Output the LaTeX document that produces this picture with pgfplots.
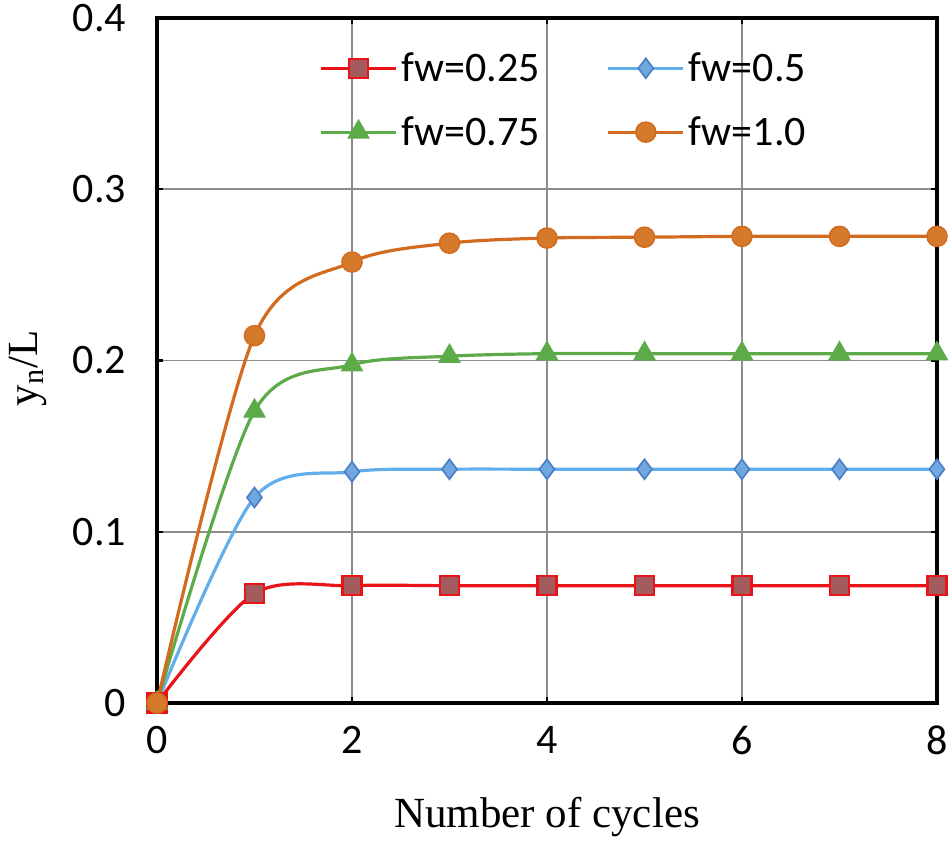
\documentclass[border=0pt]{standalone}
\usepackage{fontspec}
\setmainfont{Liberation Serif}
\newfontfamily\calfont{Carlito}
\usepackage{pgfplots}
\pgfplotsset{compat=1.18}
\definecolor{cRed}{HTML}{E8141A}
\definecolor{cRedFill}{HTML}{A45B5E}
\definecolor{cBlue}{HTML}{62AEEB}
\definecolor{cBlueFill}{HTML}{6FA7DE}
\definecolor{cBlueEdge}{HTML}{4A7CC8}
\definecolor{cGreen}{HTML}{5DAB48}
\definecolor{cOrange}{HTML}{D26B1F}
\definecolor{cOrangeFill}{HTML}{D57A2B}
\begin{document}
\begin{tikzpicture}
\begin{axis}[
  scale only axis,
  width=390pt, height=342.5pt,
  xmin=0, xmax=8, ymin=0, ymax=0.4,
  xtick={0,2,4,6,8},
  ytick={0,0.1,0.2,0.3,0.4},
  yticklabel style={/pgf/number format/fixed,/pgf/number format/precision=1},
  /pgf/number format/assume math mode=true,
  ticklabel style={font=\calfont\fontsize{21}{25}\selectfont},
  xticklabel style={yshift=-8pt},
  yticklabel style={xshift=-12pt},
  tick align=inside,
  major tick length=3pt,
  tick style={black, line width=1.2pt},
  grid=major,
  grid style={draw=gray!90, line width=0.8pt},
  axis line style={black, line width=1.6pt},
  xlabel={Number of cycles},
  ylabel={y\textsubscript{n}/L},
  label style={font=\fontsize{21.5}{25}\selectfont},
  xlabel style={yshift=-14pt},
  ylabel style={yshift=6pt, xshift=-4pt},
  legend columns=2,
  legend style={draw=none, fill=none, at={(0.2,0.962)}, anchor=north west,
    font=\calfont\fontsize{21}{25}\selectfont,
    /tikz/every even column/.append style={column sep=1.1cm},
    row sep=12pt},
  legend cell align=left,
  legend image code/.code={\draw[mark repeat=2,mark phase=2] plot coordinates {(0cm,0cm)(0.66cm,0cm)(1.32cm,0cm)};},
  every axis plot/.append style={smooth, tension=0.5, line width=1.6pt},
]
\addplot[cRed, mark=square*, mark size=4.8pt, mark options={fill=cRedFill, draw=cRed, line width=1.2pt}]
 coordinates {(0,0)(1,0.064)(2,0.0685)(3,0.0685)(4,0.0685)(5,0.0685)(6,0.0685)(7,0.0685)(8,0.0685)};
\addlegendentry{fw=0.25}
\addplot[cBlue, mark=diamond*, mark size=5pt, mark options={fill=cBlueFill, draw=cBlueEdge, line width=0.8pt}]
 coordinates {(0,0)(1,0.120)(2,0.135)(3,0.1365)(4,0.1365)(5,0.1365)(6,0.1365)(7,0.1365)(8,0.1365)};
\addlegendentry{fw=0.5}
\addplot[cGreen, mark=triangle*, mark size=6pt, mark options={fill=cGreen, draw=cGreen, line width=0.6pt}]
 coordinates {(0,0)(1,0.1705)(2,0.1975)(3,0.2025)(4,0.204)(5,0.204)(6,0.204)(7,0.204)(8,0.204)};
\addlegendentry{fw=0.75}
\addplot[cOrange, mark=*, mark size=5pt, mark options={fill=cOrangeFill, draw=cOrange, line width=0.8pt}]
 coordinates {(0,0)(1,0.2145)(2,0.2575)(3,0.2685)(4,0.2715)(5,0.272)(6,0.2725)(7,0.2725)(8,0.2725)};
\addlegendentry{fw=1.0}
\end{axis}
\pgfresetboundingbox
\path (current axis.south west) ++(-78.5pt,-71.5pt) rectangle ++(476pt,423pt);
\end{tikzpicture}
\end{document}
